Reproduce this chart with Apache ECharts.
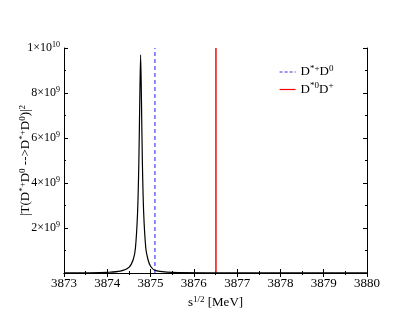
<!DOCTYPE html>
<html>
<head>
<meta charset="utf-8">
<script src="https://cdn.jsdelivr.net/npm/echarts@6/dist/echarts.min.js"></script>
<style>
  html, body { margin: 0; padding: 0; background: #fff; }
  #chart { width: 415px; height: 321px; }
</style>
</head>
<body>
<div id="chart"></div>
<script>
// amplitude squared vs sqrt(s)
var energy = [3873.0, 3873.5, 3874.0, 3874.3, 3874.5, 3874.6, 3874.65, 3874.7, 3874.73, 3874.75, 3874.77,
              3874.79, 3874.81, 3874.84, 3874.89, 3874.94, 3875.0, 3875.1, 3875.5, 3876.5, 3878.0, 3880.0]
var amp2 = [0.004e9, 0.01e9, 0.03e9, 0.08e9, 0.25e9, 0.6e9, 1.1e9, 2.7e9, 5.0e9, 7.6e9, 9.7e9,
            7.6e9, 5.0e9, 2.7e9, 1.1e9, 0.6e9, 0.3e9, 0.12e9, 0.03e9, 0.01e9, 0.005e9, 0.003e9]

// thresholds
var thrNames = ['D*+D0', 'D*0D+']
var thrEnergy = [3875.10, 3876.51]
var thrColors = ['#7373f5', '#f01e1e']

var serif = 'Liberation Serif'
var chart = echarts.init(document.getElementById('chart'))

var curve = []
for (var i = 0; i < energy.length; i++) curve.push([energy[i], amp2[i]])

var supRich = {
  b: { fontFamily: serif, fontSize: 12, color: '#000' },
  s: { fontFamily: serif, fontSize: 8, color: '#000', verticalAlign: 'top', padding: [0, 0, 7, 0] }
}
var nameRich = {
  b: { fontFamily: serif, fontSize: 13, color: '#000' },
  s: { fontFamily: serif, fontSize: 9, color: '#000', verticalAlign: 'top', padding: [0, 0, 7, 0] }
}

function yLabel(v) {
  if (v === 0) return ''
  var e = Math.floor(Math.log10(v) + 1e-9)
  var m = Math.round(v / Math.pow(10, e))
  return '{b|' + m + '×10}{s|' + e + '}'
}

var series = [{
  name: 'T',
  type: 'line',
  data: curve,
  symbol: 'none',
  smooth: 0.3,
  lineStyle: { color: '#000', width: 1.2 },
  z: 3
}]
for (var k = 0; k < thrNames.length; k++) {
  series.push({
    name: thrNames[k],
    type: 'line',
    symbol: 'none',
    data: [[thrEnergy[k], 0], [thrEnergy[k], 1e10]],
    lineStyle: { color: thrColors[k], width: 1.6, type: k === 0 ? [4, 3] : 'solid' },
    itemStyle: { color: thrColors[k] },
    z: 2
  })
}

var option = {
  animation: false,
  backgroundColor: '#fff',
  grid: { left: 64, top: 48, width: 303, height: 225, outerBoundsMode: 'none' },
  legend: {
    data: [
      { name: thrNames[0], lineStyle: { color: '#3030d0', width: 1, type: [3, 2] } },
      { name: thrNames[1], lineStyle: { color: '#ff0000', width: 1.2 } }
    ],
    orient: 'vertical',
    left: 274,
    top: 59,
    itemWidth: 16,
    itemHeight: 10,
    itemGap: 3,
    itemStyle: { opacity: 0 },
    formatter: function (n) {
      return n === 'D*+D0' ? '{b|D}{s|*+}{b|D}{s|0}' : '{b|D}{s|*0}{b|D}{s|+}'
    },
    textStyle: { rich: nameRich }
  },
  xAxis: [{
    type: 'value',
    min: 3873, max: 3880, interval: 1,
    name: '{b|s}{s|1/2}{b| [MeV]}',
    nameLocation: 'middle',
    nameGap: 21,
    nameTextStyle: { rich: nameRich },
    axisLine: { lineStyle: { color: '#000' } },
    axisTick: { inside: true, length: 4, lineStyle: { color: '#000' } },
    minorTick: { show: true, splitNumber: 2, length: 2, lineStyle: { color: '#000' } },
    axisLabel: { fontFamily: serif, fontSize: 13, color: '#000', margin: 4, formatter: function (v) { return String(v) } },
    splitLine: { show: false }
  }, {
    type: 'value', position: 'top',
    min: 3873, max: 3880, interval: 1,
    axisLine: { lineStyle: { color: '#000' } },
    axisTick: { inside: true, length: 4, lineStyle: { color: '#000' } },
    minorTick: { show: true, splitNumber: 2, length: 2, lineStyle: { color: '#000' } },
    axisLabel: { show: false },
    splitLine: { show: false }
  }],
  yAxis: [{
    type: 'value',
    min: 0, max: 1e10, interval: 2e9,
    name: '{b||T(D}{s|*+}{b|D}{s|0}{b| -->D}{s|*+}{b|D}{s|0}{b|)|}{s|2}',
    nameLocation: 'middle',
    nameRotate: 90,
    nameGap: 30,
    nameMoveOverlap: false,
    nameTextStyle: { rich: nameRich },
    axisLine: { lineStyle: { color: '#000' } },
    axisTick: { inside: true, length: 4, lineStyle: { color: '#000' } },
    minorTick: { show: true, splitNumber: 2, length: 2, lineStyle: { color: '#000' } },
    axisLabel: { formatter: yLabel, rich: supRich, margin: 4 },
    splitLine: { show: false }
  }, {
    type: 'value', position: 'right',
    min: 0, max: 1e10, interval: 2e9,
    axisLine: { show: true, lineStyle: { color: '#000' } },
    axisTick: { inside: true, length: 4, lineStyle: { color: '#000' } },
    minorTick: { show: true, splitNumber: 2, length: 2, lineStyle: { color: '#000' } },
    axisLabel: { show: false },
    splitLine: { show: false }
  }],
  series: series
}

chart.setOption(option)
</script>
</body>
</html>
